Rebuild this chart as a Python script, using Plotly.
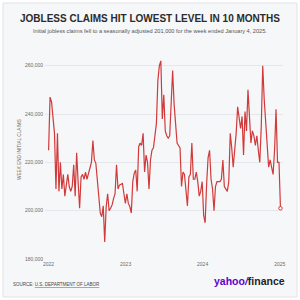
import pandas as pd
import plotly.graph_objects as go

start_week = "2022-01-01"
claims_k = [
    225, 247, 245, 238, 232, 209, 232, 208, 220, 209,
    215, 206, 212, 215, 210, 208, 210, 219, 206, 224,
    212, 201, 214, 215, 213, 216, 213, 215, 217, 220,
    229, 221, 219.6, 213, 204, 199, 197.5, 202, 187, 201.7,
    207, 200, 201, 202.4, 205, 207, 219, 209, 210.6, 211,
    211.3, 207, 203, 207, 203, 201.7, 199, 212, 215.5, 216.8,
    208, 226.5, 228, 227, 232, 216, 223, 220, 209, 221,
    225, 226, 230, 236, 254, 260, 262, 238, 248, 233,
    231, 230, 231, 245, 258, 244, 236, 228, 227, 226,
    210, 216, 215, 207, 202, 214, 215, 228, 213, 213,
    216, 212, 206, 208, 212, 198, 195, 211, 222, 225,
    213, 209, 200, 210, 212, 212, 212, 213, 221, 210,
    209, 208, 212, 232, 226, 218, 225, 232, 243, 238,
    234, 239, 223, 241, 233, 250, 239, 228, 233, 231,
    227, 231, 225, 220, 235, 260, 246, 235, 225, 218,
    221, 218, 215, 225, 242, 220, 220, 201,
]
claims = [v * 1000 for v in claims_k]
weeks = pd.date_range(start_week, periods=len(claims), freq="7D")

y_ticks = [180000, 200000, 220000, 240000, 260000]
x_ticks = ["2022-01-01", "2023-01-01", "2024-01-01", "2025-01-01"]
x_labels = ["2022", "2023", "2024", "2025"]

L, R, T, B = 45, 17, 55, 41
PW, PH = 300 - L - R, 300 - T - B


def px(x):
    return (x - L) / PW


def py(y):
    return (300 - B - y) / PH


RED = "#d13a3a"
GRAY = "#6b6b6b"

fig = go.Figure()
fig.add_trace(go.Scatter(
    x=weeks, y=claims, mode="lines",
    line=dict(color=RED, width=1.2), hoverinfo="skip", showlegend=False,
))
fig.add_trace(go.Scatter(
    x=[weeks[-1]], y=[claims[-1]], mode="markers",
    marker=dict(size=3.5, color="white", line=dict(color=RED, width=1)),
    hoverinfo="skip", showlegend=False,
))

fig.update_layout(
    width=300, height=300,
    margin=dict(l=L, r=R, t=T, b=B, pad=0),
    paper_bgcolor="white",
    plot_bgcolor="rgba(0,0,0,0)",
    font=dict(family="Liberation Sans, Arial, sans-serif", color=GRAY),
    xaxis=dict(
        range=["2021-12-15", "2025-01-16"],
        tickvals=x_ticks, ticktext=x_labels,
        tickfont=dict(size=5, color=GRAY),
        showgrid=False, zeroline=False, showline=False, ticks="",
        ticklabelstandoff=1,
    ),
    yaxis=dict(
        range=[180000, 264430],
        tickvals=y_ticks, tickformat=",",
        tickfont=dict(size=5, color=GRAY),
        showgrid=True, gridcolor="#e6e7ea", gridwidth=1,
        zeroline=False, showline=False, ticks="",
        ticklabelstandoff=1,
    ),
    shapes=[dict(
        type="rect", xref="paper", yref="paper",
        x0=px(3), x1=px(297), y0=py(297), y1=py(3),
        fillcolor="#f6f7f9", line=dict(color="#e2e3e6", width=1),
        layer="below",
    )],
    annotations=[
        dict(text="<b>JOBLESS CLAIMS HIT LOWEST LEVEL IN 10 MONTHS</b>",
             xref="paper", yref="paper", x=px(150), y=py(18.5),
             xanchor="center", yanchor="middle", showarrow=False,
             font=dict(size=10, color="#2b2b2b")),
        dict(text="Initial jobless claims fell to a seasonally adjusted 201,000 for the week ended January 4, 2025.",
             xref="paper", yref="paper", x=px(150), y=py(30.7),
             xanchor="center", yanchor="middle", showarrow=False,
             font=dict(size=5.6, color="#555555")),
        dict(text="WEEK END INITIAL CLAIMS", textangle=-90,
             xref="paper", yref="paper", x=px(19), y=py(150),
             xanchor="center", yanchor="middle", showarrow=False,
             font=dict(size=4.7, color=GRAY)),
        dict(text="SOURCE: <u>U.S. DEPARTMENT OF LABOR</u>",
             xref="paper", yref="paper", x=px(11), y=py(284),
             xanchor="left", yanchor="middle", showarrow=False,
             font=dict(size=4.5, color="#444444")),
        dict(text="<b><span style='color:#6001d2'>yahoo<i>/</i></span>finance</b>",
             xref="paper", yref="paper", x=px(287), y=py(281),
             xanchor="right", yanchor="middle", showarrow=False,
             font=dict(size=10.5, color="#1d2228")),
    ],
)

fig.write_html("out.html")
